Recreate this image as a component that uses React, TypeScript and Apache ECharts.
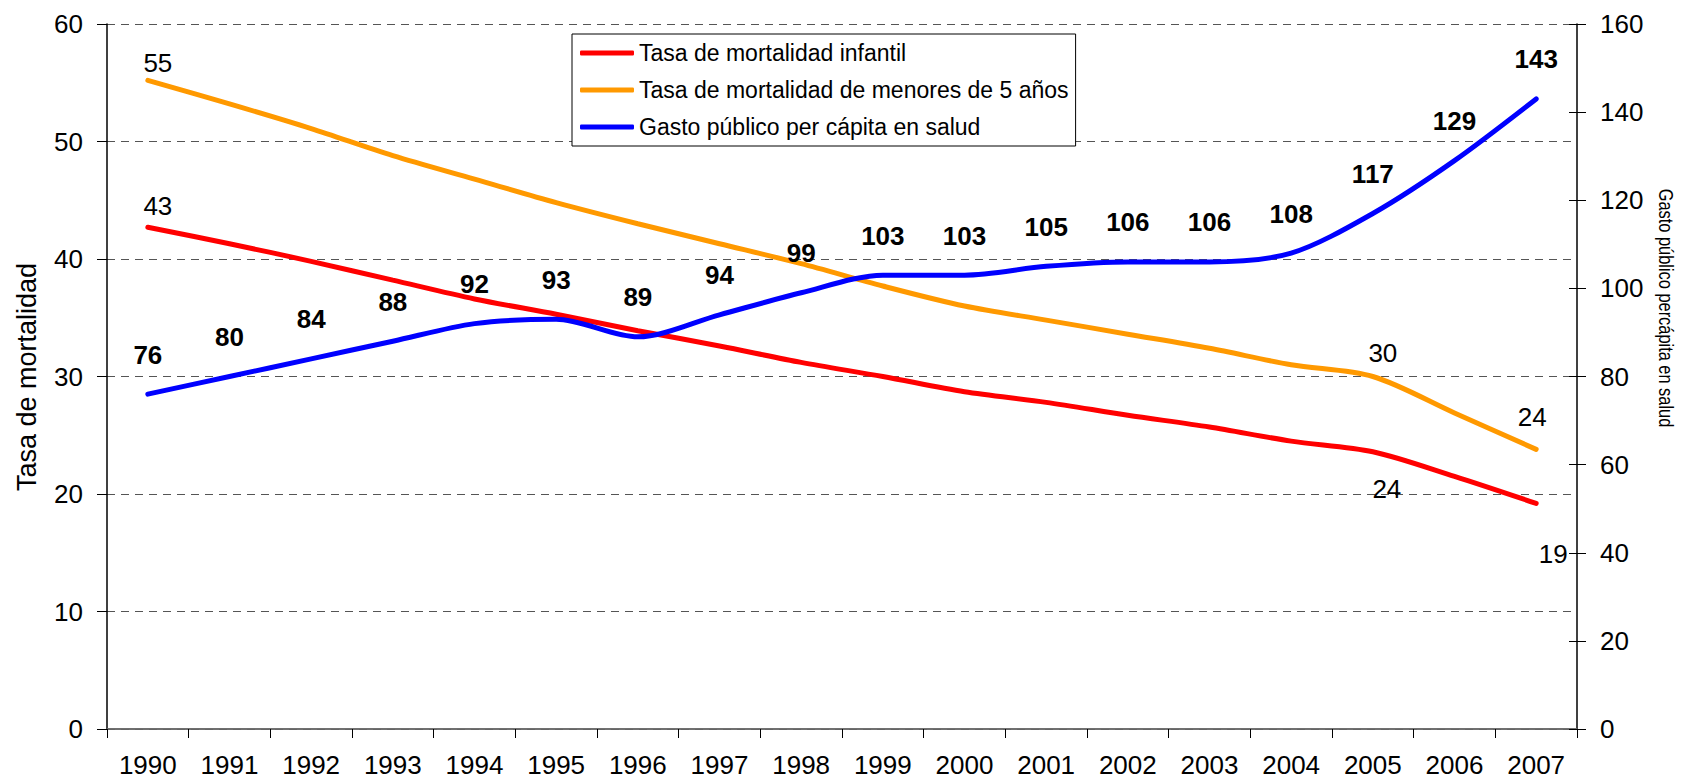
import React, { useEffect, useRef } from "react";
import * as echarts from "echarts";

const years = ["1990", "1991", "1992", "1993", "1994", "1995", "1996", "1997", "1998", "1999", "2000", "2001", "2002", "2003", "2004", "2005", "2006", "2007"];
const infantil = [42.7, 41.3, 39.8, 38.2, 36.6, 35.3, 33.9, 32.6, 31.2, 30.0, 28.7, 27.8, 26.7, 25.7, 24.5, 23.6, 21.5, 19.2];
const menores5 = [55.2, 53.2, 51.1, 48.8, 46.8, 44.8, 43.0, 41.3, 39.6, 37.7, 36.0, 34.8, 33.6, 32.4, 31.0, 30.0, 26.9, 23.8];
const gasto = [76, 80, 84, 88, 92, 93, 89, 94, 99, 103, 103, 105, 106, 106, 108, 117, 129, 143];
const leftTicks = { min: 0, max: 60, interval: 10 };
const rightTicks = { min: 0, max: 160, interval: 20 };
const seriesNames = ["Tasa de mortalidad infantil", "Tasa de mortalidad de menores de 5 años", "Gasto público per cápita en salud"];
const leftTitle = "Tasa de mortalidad";
const rightTitle = "Gasto público percápita en salud";

const FONT = "'Liberation Sans', Arial, Helvetica, sans-serif";

type LabelCfg = { position: string; distance: number; offset: number[] };
const redLabelCfg: Record<number, LabelCfg> = {
  0: { position: "top", distance: 8, offset: [10, 0] },
  15: { position: "bottom", distance: 24, offset: [14, 0] },
  17: { position: "bottom", distance: 37, offset: [17, 0] },
};
const orangeLabelCfg: Record<number, LabelCfg> = {
  0: { position: "top", distance: 4, offset: [10, 0] },
  15: { position: "top", distance: 10, offset: [10, 0] },
  17: { position: "top", distance: 19, offset: [-4, 0] },
};

const labelText = { fontSize: 26, fontFamily: FONT, color: "#000" };

function withLabels(values: number[], cfg: Record<number, LabelCfg>) {
  return values.map((v, i) =>
    cfg[i]
      ? {
          value: v,
          label: {
            show: true,
            position: cfg[i].position,
            distance: cfg[i].distance,
            offset: cfg[i].offset,
            formatter: (p: any) => String(Math.round(p.value)),
            ...labelText,
          },
        }
      : v
  );
}

export default function App() {
  const ref = useRef<HTMLDivElement>(null);
  useEffect(() => {
    if (!ref.current) return;
    const chart = echarts.init(ref.current, null, { renderer: "svg" });
    const option: any = {
      animation: false,
      backgroundColor: "#fff",
      textStyle: { fontFamily: FONT },
      grid: { left: 107, right: 105, top: 24, bottom: 52, containLabel: false },
      legend: {
        orient: "vertical",
        left: 572,
        top: 34,
        padding: [6, 7, 6, 8],
        itemGap: 11,
        itemWidth: 54,
        itemHeight: 5,
        icon: "roundRect",
        borderColor: "#000",
        borderWidth: 1,
        backgroundColor: "#fff",
        textStyle: { fontSize: 23, lineHeight: 26, color: "#000", fontFamily: FONT },
        data: seriesNames,
      },
      xAxis: [
        {
          type: "category",
          data: years,
          boundaryGap: true,
          axisLine: { lineStyle: { color: "#000", width: 1.5 } },
          axisTick: { show: true, length: 9, lineStyle: { color: "#000" }, alignWithLabel: false },
          axisLabel: { fontSize: 26, lineHeight: 22, color: "#000", margin: 25, interval: 0, fontFamily: FONT },
          splitLine: { show: false },
        },
        {
          type: "category",
          data: years,
          position: "top",
          boundaryGap: true,
          axisLine: { lineStyle: { color: "#808080", width: 1.5 } },
          axisTick: { show: false },
          axisLabel: { show: false },
          splitLine: { show: false },
        },
      ],
      yAxis: [
        {
          type: "value",
          position: "left",
          min: leftTicks.min,
          max: leftTicks.max,
          interval: leftTicks.interval,
          axisLine: { show: true, lineStyle: { color: "#000", width: 1.5 } },
          axisTick: { show: true, length: 10, lineStyle: { color: "#000" } },
          axisLabel: { fontSize: 26, color: "#000", margin: 24, fontFamily: FONT },
          splitLine: { show: true, lineStyle: { color: "#555", width: 1, type: [8, 6] } },
        },
        {
          type: "value",
          position: "right",
          min: rightTicks.min,
          max: rightTicks.max,
          interval: rightTicks.interval,
          axisLine: { show: true, lineStyle: { color: "#000", width: 1.5 } },
          axisTick: { show: true, length: 9, lineStyle: { color: "#000" } },
          axisLabel: { fontSize: 26, color: "#000", margin: 23, fontFamily: FONT },
          splitLine: { show: false },
        },
        {
          type: "value",
          position: "right",
          min: rightTicks.min,
          max: rightTicks.max,
          interval: rightTicks.interval,
          axisLine: { show: false },
          axisTick: { show: true, inside: true, length: 8, lineStyle: { color: "#000" } },
          axisLabel: { show: false },
          splitLine: { show: false },
        },
      ],
      graphic: [
        {
          type: "text",
          x: 27,
          y: 377,
          rotation: Math.PI / 2,
          style: { text: leftTitle, fontSize: 27, fontFamily: FONT, fill: "#000", align: "center", verticalAlign: "middle" },
        },
        {
          type: "text",
          x: 1666,
          y: 308,
          rotation: -Math.PI / 2,
          scaleX: 0.78,
          style: { text: rightTitle, fontSize: 21, fontFamily: FONT, fill: "#000", align: "center", verticalAlign: "middle" },
        },
      ],
      series: [
        {
          name: seriesNames[0],
          type: "line",
          xAxisIndex: 0,
          yAxisIndex: 0,
          data: withLabels(infantil, redLabelCfg),
          smooth: 0.3,
          symbol: "circle",
          symbolSize: 1,
          showSymbol: true,
          lineStyle: { color: "#FF0000", width: 5, cap: "round" },
          itemStyle: { color: "#FF0000" },
          label: { show: false },
        },
        {
          name: seriesNames[1],
          type: "line",
          xAxisIndex: 0,
          yAxisIndex: 0,
          data: withLabels(menores5, orangeLabelCfg),
          smooth: 0.3,
          symbol: "circle",
          symbolSize: 1,
          showSymbol: true,
          lineStyle: { color: "#FF9900", width: 5, cap: "round" },
          itemStyle: { color: "#FF9900" },
          label: { show: false },
        },
        {
          name: seriesNames[2],
          type: "line",
          xAxisIndex: 0,
          yAxisIndex: 1,
          data: gasto,
          smooth: 0.3,
          symbol: "circle",
          symbolSize: 1,
          showSymbol: true,
          lineStyle: { color: "#0000FF", width: 5, cap: "round" },
          itemStyle: { color: "#0000FF" },
          label: {
            show: true,
            position: "top",
            distance: 26,
            fontSize: 26,
            fontWeight: "bold",
            color: "#000",
            fontFamily: FONT,
          },
        },
      ],
    };
    chart.setOption(option);
    return () => chart.dispose();
  }, []);
  return (
    <div
      ref={ref}
      style={{ position: "fixed", left: 0, top: 0, width: 1682, height: 781, background: "#fff" }}
    />
  );
}
